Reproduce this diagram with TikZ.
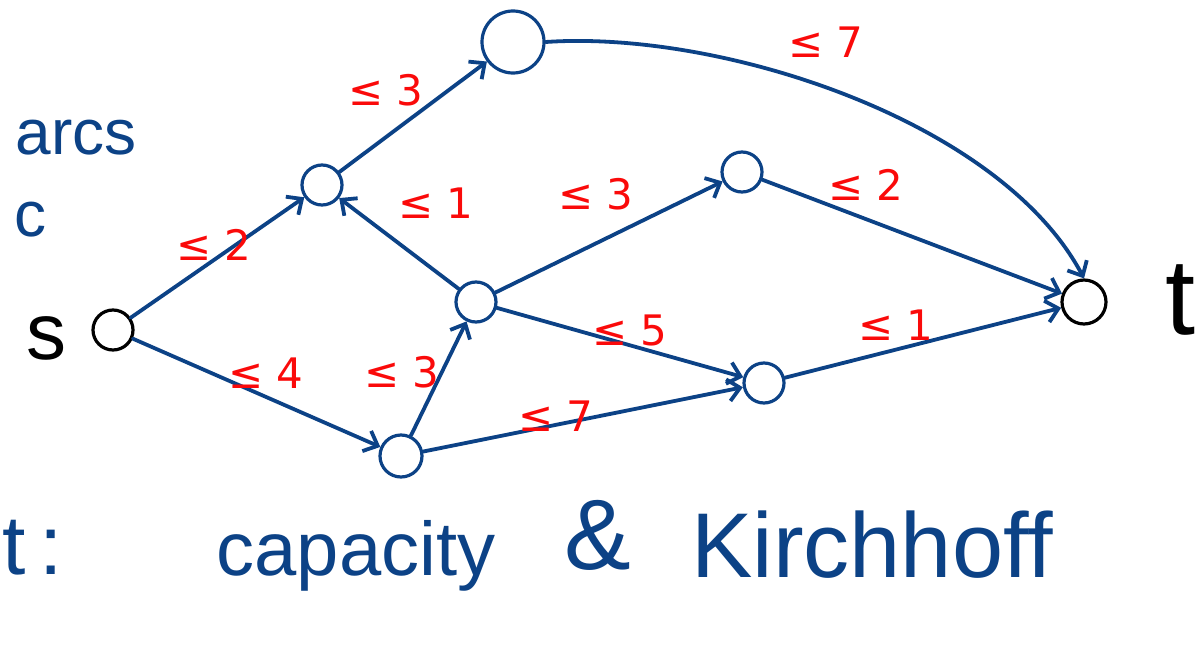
\documentclass[tikz,border=0pt]{standalone}
\usepackage{fontspec}
\setmainfont{Liberation Sans}
\newfontfamily\symfont{DejaVu Sans}
\usetikzlibrary{arrows.meta}
\definecolor{ink}{RGB}{12,66,134}
\definecolor{pen}{RGB}{250,10,10}
\tikzset{
  vert/.style={circle, draw=ink, line width=1.6pt, minimum size=20pt, inner sep=0pt},
  term/.style={vert, draw=black},
  arc/.style={draw=ink, line width=1.9pt, line cap=round,
              -{Straight Barb[length=6pt,width=11pt,line width=1.9pt]}},
  capval/.style={text=pen, font=\symfont\fontsize{21}{24}\selectfont, inner sep=0pt},
  note/.style={text=ink, inner sep=0pt},
}
\begin{document}
\begin{tikzpicture}[x=0.5pt, y=-0.5pt]
\useasboundingbox (0,0) rectangle (1199,664);

% vertices
\node[term] (s) at (113,330) {};
\node[vert] (a) at (322,185) {};
\node[vert, minimum size=31pt] (u) at (513,42) {};
\node[vert] (d) at (742,172) {};
\node[vert] (c) at (476,302) {};
\node[vert, minimum size=21pt] (b) at (401,456) {};
\node[vert] (e) at (764,383) {};
\node[term, minimum size=22pt] (t) at (1084,302) {};

% vertex names
\node[inner sep=0pt, font=\fontsize{40}{40}\selectfont] (sl) at (46,338) {s};
\node[inner sep=0pt, font=\fontsize{54}{54}\selectfont] (tl) at (1180,300) {t};

% arcs
\draw[arc] (s) -- (a);
\draw[arc] (s) -- (b);
\draw[arc] (a) -- (u);
\draw[arc] (u.east) .. controls (720,30) and (1000,120) .. (t.north);
\draw[arc] (c) -- (a);
\draw[arc] (c) -- (d);
\draw[arc] (c) -- (e);
\draw[arc] (d) -- (t);
\draw[arc] (e) -- (t);
\draw[arc] (b) -- (c);
\draw[arc] (b) -- (e);

% capacities
\node[capval] (k1) at (214,245) {≤ 2};
\node[capval] (k2) at (266,373) {≤ 4};
\node[capval] (k3) at (386,90) {≤ 3};
\node[capval] (k4) at (826,42) {≤ 7};
\node[capval] (k5) at (436,203) {≤ 1};
\node[capval] (k6) at (596,194) {≤ 3};
\node[capval] (k7) at (866,185) {≤ 2};
\node[capval] (k8) at (630,330) {≤ 5};
\node[capval] (k9) at (896,325) {≤ 1};
\node[capval] (k10) at (556,416) {≤ 7};
\node[capval] (k11) at (402,372) {≤ 3};

% side notes
\node[note, font=\fontsize{32}{32}\selectfont] (arcs) at (76,138) {arcs};
\node[note, font=\fontsize{32}{32}\selectfont] (cc) at (30,220) {c};
\node[note, font=\fontsize{42}{42}\selectfont, anchor=west] (ff) at (2,548) {t\,:};
\node[note, font=\fontsize{38}{38}\selectfont] (capy) at (356,556) {capacity};
\node[note, font=\fontsize{50}{50}\selectfont] (amp) at (598,535) {\&};
\node[note, font=\fontsize{46}{46}\selectfont] (kir) at (872,545) {Kirchhoff};
\end{tikzpicture}
\end{document}
